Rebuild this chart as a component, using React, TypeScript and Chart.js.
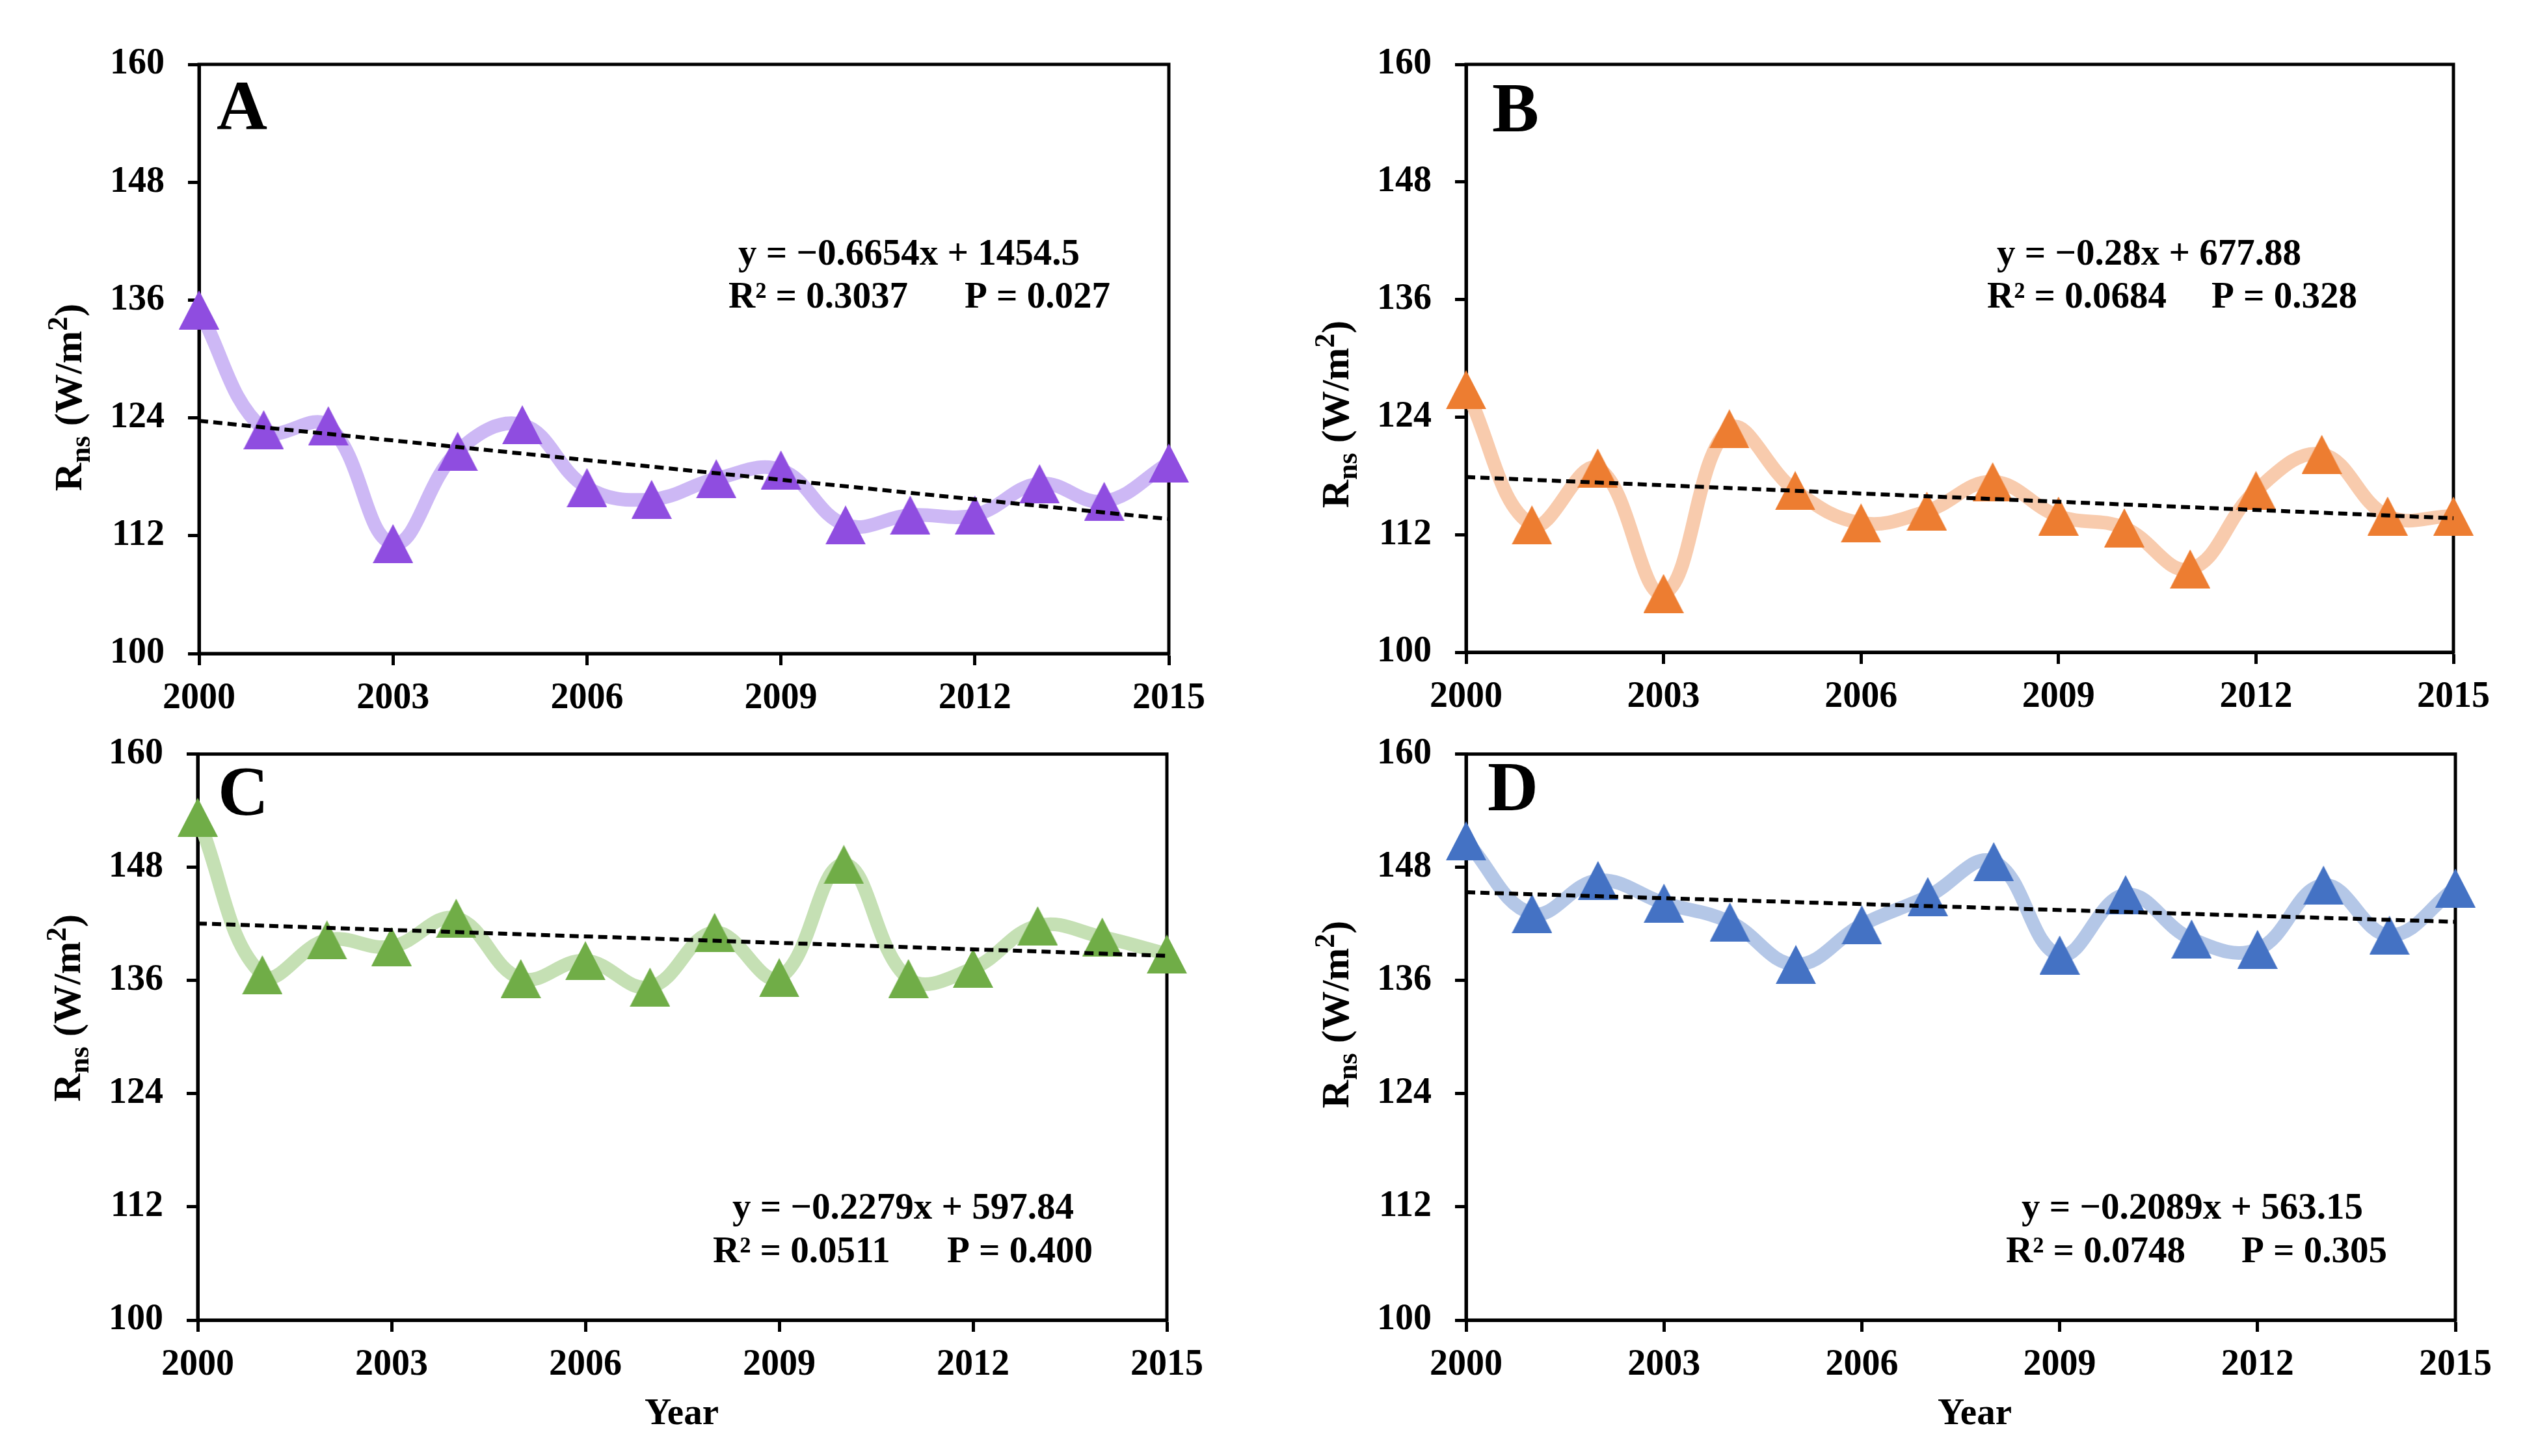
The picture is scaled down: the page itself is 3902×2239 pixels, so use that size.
import React, { useEffect, useRef } from 'react';
import { Chart, registerables } from 'chart.js';

Chart.register(...registerables);

// ---------- data ----------
const years = [2000, 2001, 2002, 2003, 2004, 2005, 2006, 2007, 2008, 2009, 2010, 2011, 2012, 2013, 2014, 2015];
const xTickValues = [2000, 2003, 2006, 2009, 2012, 2015];
const yTickValues = [100, 112, 124, 136, 148, 160];
const trendYears = [2000, 2015];

const seriesA = [135.0, 122.8, 123.2, 111.2, 120.6, 123.3, 116.9, 115.7, 117.8, 118.7, 113.1, 114.1, 114.1, 117.3, 115.5, 119.4];
const seriesB = [126.8, 113.0, 118.8, 106.0, 122.8, 116.5, 113.2, 114.4, 117.4, 113.9, 112.7, 108.5, 116.5, 120.2, 113.9, 113.9];
const seriesC = [153.3, 136.6, 140.3, 139.6, 142.6, 136.2, 138.1, 135.3, 141.1, 136.3, 148.3, 136.2, 137.3, 141.8, 140.6, 138.8];
const seriesD = [150.8, 143.1, 146.6, 144.2, 142.2, 137.7, 141.9, 144.9, 148.6, 138.7, 145.1, 140.4, 139.3, 146.1, 140.8, 145.8];

// trend line end values (2000, 2015), from the printed regression equations
const trendA = [123.7, 113.7];
const trendB = [117.88, 113.68];
const trendC = [142.04, 138.62];
const trendD = [145.35, 142.22];

const eqA = ['y = \u22120.6654x + 1454.5', 'R\u00b2 = 0.3037', 'P = 0.027'];
const eqB = ['y = \u22120.28x + 677.88', 'R\u00b2 = 0.0684', 'P = 0.328'];
const eqC = ['y = \u22120.2279x + 597.84', 'R\u00b2 = 0.0511', 'P = 0.400'];
const eqD = ['y = \u22120.2089x + 563.15', 'R\u00b2 = 0.0748', 'P = 0.305'];

// ---------- layout / style ----------
const FONT = '"Liberation Serif", "Times New Roman", serif';

type Panel = {
  letter: string;
  series: number[];
  trend: number[];
  eq: string[];
  marker: string;
  line: string;
  box: { left: number; top: number; w: number; h: number };
  plot: { l: number; r: number; t: number; b: number };
  letterPos: { x: number; y: number };
  eq1: { x: number; y: number };
  eq2: { x: number; y: number; px: number };
  ytitle: { x: number; y: number };
  year: { x: number; y: number } | null;
};

const panels: Panel[] = [
  {
    letter: 'A', series: seriesA, trend: trendA, eq: eqA, marker: '#8F4DE0', line: '#CDB8F5',
    box: { left: 0, top: 0, w: 1950, h: 1125 },
    plot: { l: 306, r: 1797, t: 99, b: 1005 },
    letterPos: { x: 333, y: 199 },
    eq1: { x: 1135, y: 407 }, eq2: { x: 1120, y: 473, px: 1483 },
    ytitle: { x: 125, y: 611 }, year: null,
  },
  {
    letter: 'B', series: seriesB, trend: trendB, eq: eqB, marker: '#ED7D31', line: '#F8CBAD',
    box: { left: 1950, top: 0, w: 1952, h: 1125 },
    plot: { l: 2254, r: 3772, t: 99, b: 1003 },
    letterPos: { x: 2294, y: 202 },
    eq1: { x: 3070, y: 407 }, eq2: { x: 3055, y: 473, px: 3400 },
    ytitle: { x: 2073, y: 637 }, year: null,
  },
  {
    letter: 'C', series: seriesC, trend: trendC, eq: eqC, marker: '#70AD47', line: '#C5E0B4',
    box: { left: 0, top: 1090, w: 1950, h: 1149 },
    plot: { l: 304, r: 1794, t: 1151, b: 2030 },
    letterPos: { x: 335, y: 1253 },
    eq1: { x: 1126, y: 1874 }, eq2: { x: 1096, y: 1941, px: 1456 },
    ytitle: { x: 123, y: 1550 }, year: { x: 1048, y: 2190 },
  },
  {
    letter: 'D', series: seriesD, trend: trendD, eq: eqD, marker: '#4472C4', line: '#B4C7E7',
    box: { left: 1950, top: 1090, w: 1952, h: 1149 },
    plot: { l: 2254, r: 3775, t: 1142, b: 2030 },
    letterPos: { x: 2287, y: 1246 },
    eq1: { x: 3108, y: 1874 }, eq2: { x: 3084, y: 1941, px: 3446 },
    ytitle: { x: 2073, y: 1560 }, year: { x: 3036, y: 2190 },
  },
];

function makeTriangle(color: string): HTMLCanvasElement {
  const c = document.createElement('canvas');
  c.width = 62;
  c.height = 60;
  const g = c.getContext('2d')!;
  g.fillStyle = color;
  g.beginPath();
  g.moveTo(31, 0);
  g.lineTo(62, 60);
  g.lineTo(0, 60);
  g.closePath();
  g.fill();
  return c;
}

function drawYTitle(ctx: CanvasRenderingContext2D, baseX: number, cy: number) {
  const main = `bold 60px ${FONT}`;
  const small = `bold 44px ${FONT}`;
  const parts = [
    { t: 'R', f: main, dy: 0 },
    { t: 'ns', f: small, dy: 13 },
    { t: ' (W/m', f: main, dy: 0 },
    { t: '2', f: small, dy: -22 },
    { t: ')', f: main, dy: 0 },
  ];
  let total = 0;
  const widths: number[] = [];
  for (const p of parts) {
    ctx.font = p.f;
    const w = ctx.measureText(p.t).width;
    widths.push(w);
    total += w;
  }
  ctx.save();
  ctx.translate(baseX, cy);
  ctx.rotate(-Math.PI / 2);
  ctx.fillStyle = '#000';
  ctx.textBaseline = 'alphabetic';
  ctx.textAlign = 'left';
  let x = -total / 2;
  parts.forEach((p, i) => {
    ctx.font = p.f;
    ctx.fillText(p.t, x, p.dy);
    x += widths[i];
  });
  ctx.restore();
}

function PanelChart({ p }: { p: Panel }) {
  const ref = useRef<HTMLCanvasElement | null>(null);
  useEffect(() => {
    const canvas = ref.current!;
    const ox = p.box.left;
    const oy = p.box.top;
    const yWidth = p.plot.l - ox;
    const xHeight = oy + p.box.h - p.plot.b;
    const padTop = p.plot.t - oy;
    const padRight = ox + p.box.w - p.plot.r;

    const annot = {
      id: 'annot' + p.letter,
      beforeDatasetsDraw(chart: any) {
        const a = chart.chartArea;
        const ctx = chart.ctx as CanvasRenderingContext2D;
        ctx.save();
        ctx.strokeStyle = '#000';
        ctx.lineWidth = 5;
        ctx.strokeRect(a.left, a.top, a.right - a.left, a.bottom - a.top);
        ctx.restore();
      },
      afterDraw(chart: any) {
        const ctx = chart.ctx as CanvasRenderingContext2D;
        ctx.save();
        ctx.fillStyle = '#000';
        ctx.textBaseline = 'alphabetic';
        ctx.textAlign = 'left';
        ctx.font = `bold 108px ${FONT}`;
        ctx.fillText(p.letter, p.letterPos.x - ox, p.letterPos.y - oy);
        ctx.font = `bold 57px ${FONT}`;
        ctx.fillText(p.eq[0], p.eq1.x - ox, p.eq1.y - oy);
        ctx.fillText(p.eq[1], p.eq2.x - ox, p.eq2.y - oy);
        ctx.fillText(p.eq[2], p.eq2.px - ox, p.eq2.y - oy);
        if (p.year) {
          ctx.textAlign = 'center';
          ctx.fillText('Year', p.year.x - ox, p.year.y - oy);
        }
        ctx.restore();
        drawYTitle(ctx, p.ytitle.x - ox, p.ytitle.y - oy);
      },
    };

    const chart = new Chart(canvas, {
      type: 'line',
      data: {
        datasets: [
          {
            label: 'trend',
            data: trendYears.map((x, i) => ({ x, y: p.trend[i] })),
            borderColor: '#000',
            borderWidth: 6,
            borderDash: [14, 8],
            pointRadius: 0,
            tension: 0,
            fill: false,
            clip: false as any,
          },
          {
            label: 'Rns',
            data: years.map((x, i) => ({ x, y: p.series[i] })),
            borderColor: p.line,
            borderWidth: 21,
            tension: 0.4,
            pointStyle: makeTriangle(p.marker) as any,
            pointRadius: 30,
            pointHoverRadius: 30,
            fill: false,
            clip: false as any,
          },
        ],
      },
      options: {
        animation: false,
        responsive: false,
        devicePixelRatio: 1,
        events: [],
        layout: { padding: { left: 0, top: padTop, right: padRight, bottom: 0 } },
        plugins: { legend: { display: false }, tooltip: { enabled: false }, title: { display: false } },
        scales: {
          x: {
            type: 'linear',
            min: 2000,
            max: 2015,
            offset: false,
            afterBuildTicks: (scale: any) => {
              scale.ticks = xTickValues.map((v) => ({ value: v }));
            },
            afterFit: (scale: any) => {
              scale.height = xHeight;
            },
            grid: { display: true, drawOnChartArea: false, drawTicks: true, tickLength: 18, tickWidth: 5, tickColor: '#000' },
            border: { display: true, width: 5, color: '#000' },
            ticks: {
              font: { family: FONT, size: 56, weight: 'bold' },
              color: '#000',
              padding: 18,
              maxRotation: 0,
              autoSkip: false,
              callback: (v: any) => String(v),
            },
          },
          y: {
            type: 'linear',
            min: 100,
            max: 160,
            afterBuildTicks: (scale: any) => {
              scale.ticks = yTickValues.map((v) => ({ value: v }));
            },
            afterFit: (scale: any) => {
              scale.width = yWidth;
            },
            grid: { display: true, drawOnChartArea: false, drawTicks: true, tickLength: 17, tickWidth: 5, tickColor: '#000' },
            border: { display: true, width: 5, color: '#000' },
            ticks: {
              font: { family: FONT, size: 56, weight: 'bold' },
              color: '#000',
              padding: 36,
              autoSkip: false,
              callback: (v: any) => String(v),
            },
          },
        },
      } as any,
      plugins: [annot as any],
    });
    return () => chart.destroy();
  }, [p]);

  return (
    <canvas
      ref={ref}
      width={p.box.w}
      height={p.box.h}
      style={{ position: 'absolute', left: p.box.left, top: p.box.top, width: p.box.w, height: p.box.h }}
    />
  );
}

export default function App() {
  return (
    <div style={{ position: 'absolute', left: 0, top: 0, width: 3902, height: 2239, background: '#fff', overflow: 'hidden' }}>
      {panels.map((p) => (
        <PanelChart key={p.letter} p={p} />
      ))}
    </div>
  );
}
